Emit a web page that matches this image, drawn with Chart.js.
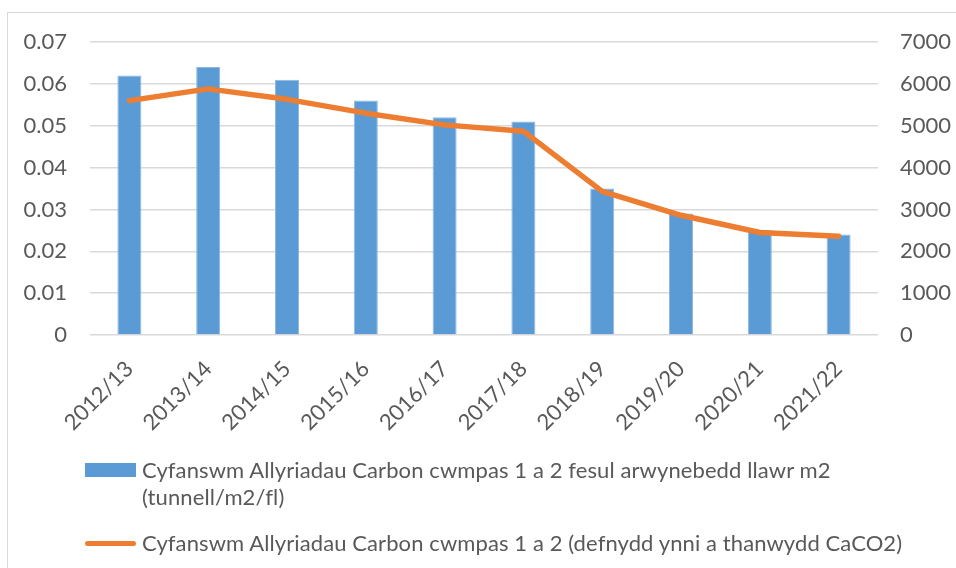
<!DOCTYPE html>
<html>
<head>
<meta charset="utf-8">
<script src="https://cdn.jsdelivr.net/npm/chart.js@4.4.1/dist/chart.umd.min.js"></script>
<style>
  html, body { margin: 0; padding: 0; background: #fff; }
  #wrap { position: relative; width: 956px; height: 568px; overflow: hidden;
          font-family: Lato, "Liberation Sans", sans-serif; color: #595959; }
  #frame { position: absolute; left: 7px; top: 12px; width: 960px; height: 570px;
           border: 1.5px solid #d9d9d9; }
  #chart { position: absolute; left: 0; top: 0; }
  #legend { position: absolute; left: 85px; top: 456px; font-size: 22px; line-height: 27px; letter-spacing: 0.1px; }
  .item { display: flex; align-items: flex-start; }
  .item + .item { margin-top: 19px; }
  .sw-bar { width: 51px; height: 14px; background: #5B9BD5; margin-top: 7px; flex: none; }
  .sw-line { width: 51px; height: 5px; background: #ED7D31; border-radius: 3px; margin-top: 12px; flex: none; }
  .txt { margin-left: 6px; white-space: nowrap; }
</style>
</head>
<body>
<div id="wrap">
  <div id="frame"></div>
  <canvas id="chart" width="956" height="568"></canvas>
  <div id="legend">
    <div class="item"><span class="sw-bar"></span><span class="txt">Cyfanswm Allyriadau Carbon cwmpas 1 a 2 fesul arwynebedd llawr m2<br>(tunnell/m2/fl)</span></div>
    <div class="item"><span class="sw-line"></span><span class="txt">Cyfanswm Allyriadau Carbon cwmpas 1 a 2 (defnydd ynni a thanwydd CaCO2)</span></div>
  </div>
</div>
<script>
// data
var years = ['2012/13', '2013/14', '2014/15', '2015/16', '2016/17', '2017/18', '2018/19', '2019/20', '2020/21', '2021/22'];
var perArea = [0.062, 0.064, 0.061, 0.056, 0.052, 0.051, 0.035, 0.029, 0.025, 0.024];
var totalCO2 = [5600, 5880, 5630, 5300, 5020, 4870, 3430, 2860, 2450, 2360];
var leftTicks = ['0', '0.01', '0.02', '0.03', '0.04', '0.05', '0.06', '0.07'];
var rightTicks = ['0', '1000', '2000', '3000', '4000', '5000', '6000', '7000'];

var labelColor = '#595959';
var font = { family: 'Lato, "Liberation Sans", sans-serif', size: 22 };

new Chart(document.getElementById('chart'), {
  type: 'bar',
  data: {
    labels: years,
    datasets: [
      {
        type: 'line',
        label: 'Cyfanswm Allyriadau Carbon cwmpas 1 a 2 (defnydd ynni a thanwydd CaCO2)',
        data: totalCO2,
        yAxisID: 'y1',
        borderColor: '#ED7D31',
        borderWidth: 5.5,
        borderCapStyle: 'round',
        borderJoinStyle: 'round',
        pointRadius: 0,
        tension: 0,
        order: 0
      },
      {
        label: 'Cyfanswm Allyriadau Carbon cwmpas 1 a 2 fesul arwynebedd llawr m2 (tunnell/m2/fl)',
        data: perArea,
        yAxisID: 'y',
        backgroundColor: '#5B9BD5',
        borderColor: '#8DB9E4',
        borderWidth: 1,
        categoryPercentage: 1,
        barPercentage: 0.305,
        order: 1
      }
    ]
  },
  options: {
    responsive: false,
    animation: false,
    layout: { padding: { top: 42, left: 0, right: 0, bottom: 0 } },
    plugins: { legend: { display: false }, tooltip: { enabled: false } },
    scales: {
      x: {
        grid: { display: false },
        border: { display: false },
        ticks: { color: labelColor, font: font, minRotation: 45, maxRotation: 45, padding: 13 },
        afterFit: function(s) { s.height = 233; }
      },
      y: {
        position: 'left',
        min: 0, max: 0.07,
        ticks: { stepSize: 0.01, color: labelColor, font: font, padding: 23,
                 callback: function(v, i) { return leftTicks[i]; } },
        grid: { color: '#d9d9d9', lineWidth: 1.5, drawTicks: false },
        border: { display: false },
        afterFit: function(s) { s.width = 90; }
      },
      y1: {
        position: 'right',
        min: 0, max: 7000,
        ticks: { stepSize: 1000, color: labelColor, font: font, padding: 22,
                 callback: function(v, i) { return rightTicks[i]; } },
        grid: { display: false, drawTicks: false },
        border: { display: false },
        afterFit: function(s) { s.width = 78; }
      }
    }
  }
});
</script>
</body>
</html>
